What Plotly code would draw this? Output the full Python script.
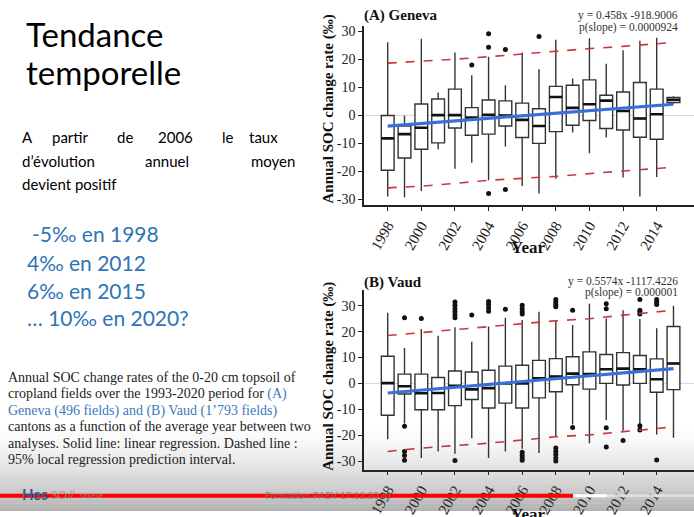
import plotly.graph_objects as go

W, H = 694, 517

# ---------------- data ----------------
years = list(range(1998, 2016))

# Geneva (A)
gen_q1 = [-19.6, -15.2, -12.1, -9.8, -4.5, -7.1, -6.7, -3.8, -7.9, -10.0, -5.8, -3.5, -1.8, -4.7, -5.2, -7.8, -8.5, 4.6]
gen_med = [-8.2, -6.7, -4.4, 0.1, 0.1, -0.8, 0.2, 0.0, -1.6, -3.8, 6.6, 2.7, 4.0, 5.3, 1.6, -1.1, 0.4, 5.6]
gen_q3 = [0.0, -3.8, 4.1, 5.9, 9.4, 2.8, 5.5, 5.2, 4.4, 2.4, 10.4, 10.8, 12.7, 7.2, 8.4, 11.8, 9.4, 6.4]
gen_lo = [-29.0, -29.3, -27.0, -12.1, -19.1, -16.9, -23.2, -11.1, -25.2, -27.9, -22.6, -6.1, -13.5, -7.9, -22.2, -29.0, -22.0, 4.2]
gen_hi = [26.2, 0.0, 27.4, 8.2, 22.5, 14.4, 21.0, 10.8, 22.5, 16.5, 27.1, 13.2, 27.6, 18.5, 23.3, 26.7, 27.8, 6.9]
gen_out_x = [2003, 2004, 2004, 2004, 2005, 2005, 2007]
gen_out_y = [18.0, 29.2, 24.4, -27.9, 23.6, -26.5, 28.2]
gen_reg_x = [1998, 2015]
gen_reg_y = [-3.8, 4.0]
gen_pi_x = [1998, 2000, 2002, 2004, 2006, 2008, 2010, 2012, 2014, 2015]
gen_pi_up = [18.7, 19.3, 20.1, 21.0, 22.0, 23.0, 23.9, 24.7, 25.5, 26.1]
gen_pi_lo = [-25.9, -25.3, -24.3, -23.2, -22.5, -21.8, -20.8, -19.9, -19.0, -18.5]

# Vaud (B)
vd_q1 = [-12.3, -4.1, -10.2, -10.2, -8.6, -6.2, -9.5, -7.6, -9.5, -5.6, -3.2, -0.5, -2.2, 0.0, -0.6, 0.0, -3.4, -2.4]
vd_med = [0.1, -1.1, -3.8, -3.7, -0.9, -2.3, -1.8, 0.0, 0.0, 2.0, 2.7, 3.8, 3.6, 5.5, 5.7, 5.5, 1.6, 7.7]
vd_q3 = [10.5, 3.6, 3.6, 2.3, 4.8, 4.4, 5.1, 6.7, 7.0, 8.9, 9.6, 10.3, 12.2, 11.2, 11.9, 10.8, 9.5, 22.0]
vd_lo = [-21.6, -15.5, -28.8, -26.3, -27.2, -21.2, -28.8, -26.3, -25.3, -26.9, -20.6, -15.9, -23.1, -14.2, -18.3, -15.9, -19.7, -21.0]
vd_hi = [27.3, 13.7, 21.0, 18.4, 21.7, 16.1, 22.0, 25.4, 24.5, 27.7, 24.5, 22.6, 30.8, 25.1, 28.3, 24.9, 21.3, 30.0]
vd_out_x = [1999, 1999, 1999, 1999, 1999, 2000,
            2002, 2002, 2002, 2002, 2002, 2002, 2002, 2003,
            2004, 2004, 2004, 2004, 2005,
            2006, 2006, 2006, 2006, 2006, 2006, 2006, 2006,
            2008, 2008, 2008, 2008, 2008, 2008, 2008, 2008, 2008,
            2009, 2009, 2011, 2011, 2011, 2011, 2012,
            2013, 2013, 2013, 2013, 2013, 2013, 2014, 2014, 2014, 2014]
vd_out_y = [25.4, -16.6, -26.3, -27.9, -29.7, 25.1,
            31.5, 30.2, 28.9, 27.7, 26.4, 25.4, -29.8, 26.4,
            31.7, 30.5, 29.2, 27.9, 28.7,
            30.2, 28.9, 27.7, 26.8, -26.6, -27.9, -28.8, -29.7,
            32.4, 31.5, 30.5, 29.6, -25.0, -26.3, -27.5, -28.8, -30.0,
            28.3, -17.0, 30.8, 28.9, -17.1, -24.6, -22.1,
            32.4, 28.3, 27.7, 26.8, -16.4, -18.0, 32.4, 31.5, 30.5, -29.6]
vd_reg_x = [1998, 2015]
vd_reg_y = [-3.7, 5.7]
vd_pi_x = [1998, 2000, 2002, 2004, 2006, 2008, 2010, 2012, 2014, 2015]
vd_pi_up = [18.5, 19.7, 20.9, 22.0, 23.1, 24.2, 25.0, 26.4, 27.7, 28.3]
vd_pi_lo = [-26.3, -25.0, -24.0, -23.1, -21.9, -20.6, -19.9, -18.7, -17.4, -16.8]

x_ticks = [1998, 2000, 2002, 2004, 2006, 2008, 2010, 2012, 2014]
y_ticks = [-30, -20, -10, 0, 10, 20, 30]
y_tick_labels = ["-30", "-20", "-10", "0", "10", "20", "30"]

# ---------------- helpers ----------------
def px(x):
    return x / W

def py(y):
    return 1 - y / H

SERIF = "Liberation Serif"
SANS = "Lato"
BOX_W = 0.76

fig = go.Figure()

def add_panel(xa, ya, q1, med, q3, lo, hi, ox, oy, rx, ry, pix, piu, pil):
    xr, yr = xa.replace("axis", ""), ya.replace("axis", "")
    fig.add_trace(go.Box(
        x=years, q1=q1, median=med, q3=q3, lowerfence=lo, upperfence=hi,
        xaxis=xr, yaxis=yr, width=BOX_W, whiskerwidth=0,
        fillcolor="white", line=dict(color="#333333", width=1.4),
        boxpoints=False, showlegend=False, hoverinfo="skip"))
    # thick median bars
    mx, my = [], []
    for yv, m in zip(years, med):
        mx += [yv - BOX_W / 2, yv + BOX_W / 2, None]
        my += [m, m, None]
    fig.add_trace(go.Scatter(x=mx, y=my, mode="lines", xaxis=xr, yaxis=yr,
                             line=dict(color="#111111", width=2.6),
                             showlegend=False, hoverinfo="skip"))
    fig.add_trace(go.Scatter(x=ox, y=oy, mode="markers", xaxis=xr, yaxis=yr,
                             marker=dict(color="#111111", size=5),
                             showlegend=False, hoverinfo="skip"))
    for arr in (piu, pil):
        fig.add_trace(go.Scatter(x=pix, y=arr, mode="lines", xaxis=xr, yaxis=yr,
                                 line=dict(color="#c8393b", width=1.6, dash="dash"),
                                 showlegend=False, hoverinfo="skip"))
    fig.add_trace(go.Scatter(x=rx, y=ry, mode="lines", xaxis=xr, yaxis=yr,
                             line=dict(color="#3a6fd8", width=3.2),
                             showlegend=False, hoverinfo="skip"))

add_panel("xaxis", "yaxis", gen_q1, gen_med, gen_q3, gen_lo, gen_hi,
          gen_out_x, gen_out_y, gen_reg_x, gen_reg_y, gen_pi_x, gen_pi_up, gen_pi_lo)
add_panel("xaxis2", "yaxis2", vd_q1, vd_med, vd_q3, vd_lo, vd_hi,
          vd_out_x, vd_out_y, vd_reg_x, vd_reg_y, vd_pi_x, vd_pi_up, vd_pi_lo)

ax_common = dict(showline=True, linecolor="#222222", linewidth=1.5, ticks="outside",
                 ticklen=4, tickcolor="#222222", showgrid=False, zeroline=False)
xr = [1996.59, 2016.22]
xfont = dict(family=SERIF, size=15, color="#222222")
yfont = dict(family=SERIF, size=14, color="#222222")
fig.update_layout(
    xaxis=dict(domain=[px(364), 1.0], range=xr, anchor="y", tickvals=x_ticks,
               tickangle=-60, tickfont=xfont, **ax_common),
    yaxis=dict(domain=[py(207), py(25)], range=[-32.1, 32.1], anchor="x",
               tickvals=y_ticks, ticktext=y_tick_labels, tickfont=yfont, **ax_common),
    xaxis2=dict(domain=[px(364), 1.0], range=xr, anchor="y2", tickvals=x_ticks,
                tickangle=-60, tickfont=xfont, **ax_common),
    yaxis2=dict(domain=[py(475), py(293)], range=[-33.3, 36.1], anchor="x2",
                tickvals=y_ticks, ticktext=y_tick_labels, tickfont=yfont, **ax_common),
)

shapes = []
# zero reference lines
for xref, yref in (("x domain", "y"), ("x2 domain", "y2")):
    shapes.append(dict(type="line", xref=xref, yref=yref, x0=0, x1=1, y0=0, y1=0,
                       line=dict(color="rgba(190,190,190,0.6)", width=1), layer="below"))

# bottom video overlay gradient
steps = 24
y_start, y_end = 425, 517
for i in range(steps):
    y0 = y_start + (y_end - y_start) * i / steps
    y1 = y_start + (y_end - y_start) * (i + 1) / steps
    a = 0.40 * ((i + 0.5) / steps) ** 1.6
    shapes.append(dict(type="rect", xref="paper", yref="paper", x0=0, x1=1,
                       y0=py(y1), y1=py(y0), line=dict(width=0),
                       fillcolor=f"rgba(60,60,60,{a:.3f})", layer="above"))
# progress bar
shapes.append(dict(type="rect", xref="paper", yref="paper", x0=px(573), x1=1,
                   y0=py(503), y1=py(500), line=dict(width=0),
                   fillcolor="rgba(225,225,225,0.9)", layer="above"))
shapes.append(dict(type="rect", xref="paper", yref="paper", x0=px(573), x1=px(607),
                   y0=py(503), y1=py(500), line=dict(width=0),
                   fillcolor="rgba(255,255,255,0.95)", layer="above"))
shapes.append(dict(type="rect", xref="paper", yref="paper", x0=0, x1=px(573),
                   y0=py(503.5), y1=py(499.5), line=dict(width=0),
                   fillcolor="#ff0000", layer="above"))

ann = []

def text(x, y, s, size, color="black", family=SANS, xanchor="left", yanchor="middle",
         angle=0, bold=False):
    if bold:
        s = f"<b>{s}</b>"
    ann.append(dict(x=px(x), y=py(y), xref="paper", yref="paper", text=s,
                    showarrow=False, xanchor=xanchor, yanchor=yanchor, textangle=angle,
                    font=dict(family=family, size=size, color=color)))

# slide title
text(24, 33, "Tendance", 33)
text(24, 72, "temporelle", 33)

# justified paragraph
for x, w in [(20, "A"), (50, "partir"), (115, "de"), (156, "2006"), (220, "le"), (247, "taux")]:
    text(x, 138, w, 15)
for x, w in [(20, "d’évolution"), (143, "annuel"), (249, "moyen")]:
    text(x, 162, w, 15)
text(20, 186, "devient positif", 15)

BLUE = "#2f74b5"
text(30, 236, "-5‰ en 1998", 21, BLUE)
text(25, 265, "4‰ en 2012", 21, BLUE)
text(25, 293, "6‰ en 2015", 21, BLUE)
text(25, 321, "… 10‰ en 2020?", 21, BLUE)

CB = "#3c78c0"
cap = [
    "Annual SOC change rates of the 0-20 cm topsoil of",
    f"cropland fields over the 1993-2020 period for <span style='color:{CB}'>(A)</span>",
    f"<span style='color:{CB}'>Geneva (496 fields) and (B) Vaud (1’793 fields)</span>",
    "cantons as a function of the average year between two",
    "analyses. Solid line: linear regression. Dashed line :",
    "95% local regression prediction interval.",
]
for i, line in enumerate(cap):
    text(6, 382 + i * 16.6, line, 14, "#222222", SERIF)

# chart texts
text(362, 15, "(A) Geneva", 15, "#111111", SERIF, bold=True)
text(362, 285, "(B) Vaud", 15, "#111111", SERIF, bold=True)
text(680, 15, "y = 0.458x -918.9006", 11.5, "#333333", SERIF, xanchor="right")
text(680, 27, "p(slope) = 0.0000924", 11.5, "#333333", SERIF, xanchor="right")
text(680, 284, "y = 0.5574x -1117.4226", 11.5, "#333333", SERIF, xanchor="right")
text(680, 296, "p(slope) = 0.000001", 11.5, "#333333", SERIF, xanchor="right")
text(329, 110, "Annual SOC change rate (‰)", 15, "#111111", SERIF, xanchor="center",
     angle=-90, bold=True)
text(329, 381, "Annual SOC change rate (‰)", 15, "#111111", SERIF, xanchor="center",
     angle=-90, bold=True)
text(528, 250, "Year", 17, "#111111", SERIF, xanchor="center", bold=True)
text(528, 521, "Year", 17, "#111111", SERIF, xanchor="center", bold=True)

# footer
text(20, 500, "<b>Hes</b>", 15, "#2a5c8f", SANS)
text(49, 500, "SO//", 12, "rgba(150,150,150,0.8)", SANS)
text(78, 501, "GENEVE", 6, "rgba(150,150,150,0.8)", SANS)
text(263, 501, "Formation PAEV 17.12.2020", 10, "rgba(120,120,120,0.8)", SANS)

fig.update_layout(width=W, height=H, margin=dict(l=0, r=0, t=0, b=0),
                  paper_bgcolor="white", plot_bgcolor="white",
                  shapes=shapes, annotations=ann, showlegend=False)

fig.write_html("out.html", config={"displayModeBar": False},
               post_script="document.body.style.margin='0';document.body.style.overflow='hidden';")
